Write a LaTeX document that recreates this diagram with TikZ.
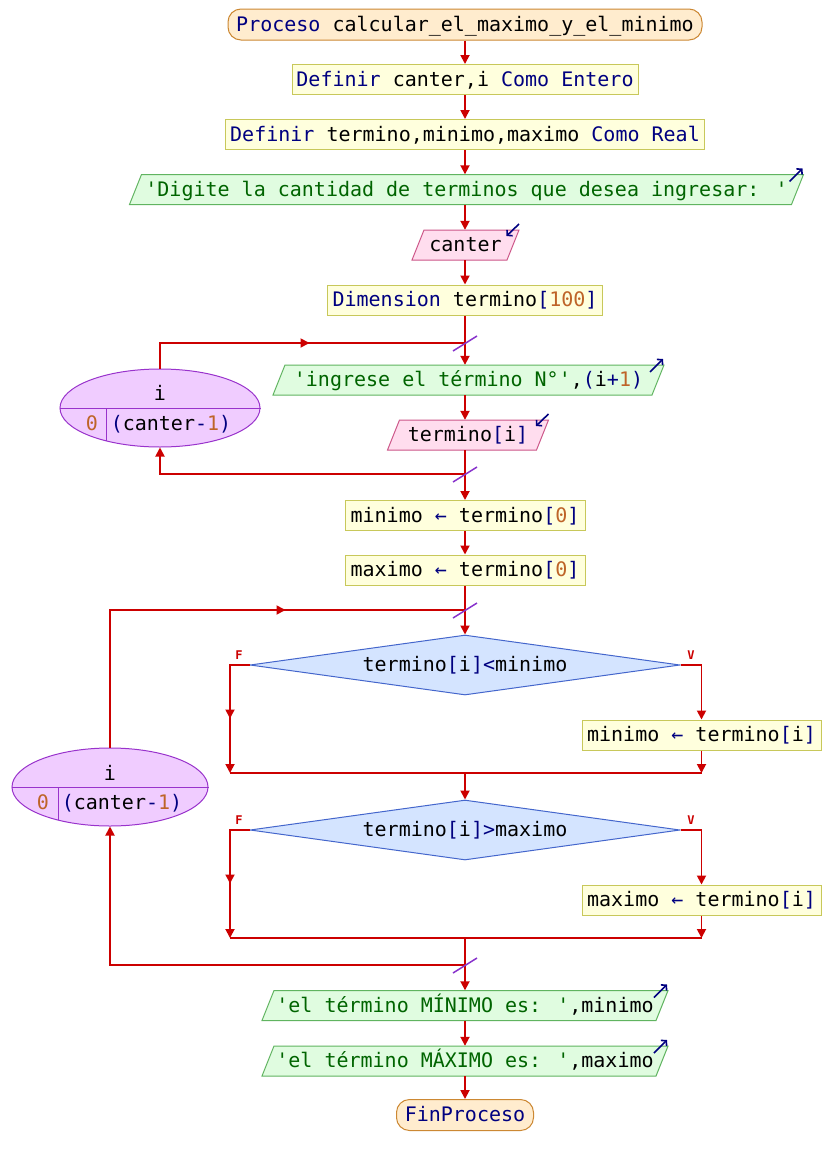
\documentclass[tikz,border=0pt]{standalone}
\usepackage{fontspec}
\newfontfamily\mono{DejaVu Sans Mono}
\usetikzlibrary{shapes.geometric,arrows.meta,calc,decorations.markings}
\definecolor{flowred}{RGB}{204,0,0}
\definecolor{kwblue}{RGB}{0,0,128}
\definecolor{strgreen}{RGB}{0,100,0}
\definecolor{numbrown}{RGB}{190,100,40}
\definecolor{termfill}{RGB}{255,236,206}
\definecolor{termdraw}{RGB}{204,136,51}
\definecolor{deffill}{RGB}{255,255,221}
\definecolor{defdraw}{RGB}{200,200,90}
\definecolor{outfill}{RGB}{224,252,224}
\definecolor{outdraw}{RGB}{96,180,96}
\definecolor{infill}{RGB}{255,221,238}
\definecolor{indraw}{RGB}{204,85,136}
\definecolor{ellfill}{RGB}{240,204,255}
\definecolor{elldraw}{RGB}{153,51,204}
\definecolor{decfill}{RGB}{212,228,255}
\definecolor{decdraw}{RGB}{68,102,204}
\definecolor{slashcol}{RGB}{136,51,204}
\newcommand\kw[1]{\textcolor{kwblue}{#1}}
\newcommand\st[1]{\textcolor{strgreen}{#1}}
\newcommand\nm[1]{\textcolor{numbrown}{#1}}
\tikzset{
  txt/.style={font=\mono\fontsize{20}{24}\selectfont, inner sep=0pt, text height=15pt, text depth=2pt},
  term/.style={txt, draw=termdraw, fill=termfill, line width=1pt, rounded corners=13pt, minimum height=31},
  defb/.style={txt, draw=defdraw, fill=deffill, line width=1pt, minimum height=30},
  outsh/.style={draw=outdraw, fill=outfill, line width=1pt},
  insh/.style={draw=indraw, fill=infill, line width=1pt},
  cornerarr/.style={draw=kwblue, line width=1.6pt, -{Straight Barb[length=3.5pt,width=8pt]}},
  loopell/.style={ellipse, draw=elldraw, fill=ellfill, line width=1pt, inner sep=0pt},
  dec/.style={txt, diamond, aspect=7.17, draw=decdraw, fill=decfill, line width=1pt, minimum width=430, minimum height=60},
  line/.style={color=flowred, line width=1.8pt},
  flow/.style={line, -{Triangle[length=9pt,width=9pt]}},
  midarrow/.style={postaction={decorate}, decoration={markings, mark=at position #1 with {\arrow{Triangle[length=9pt,width=9pt]}}}},
  slashst/.style={draw=slashcol, line width=1.5pt},
  fv/.style={font=\mono\bfseries\fontsize{12}{14}\selectfont, text=flowred, inner sep=0pt}
}
\newcommand\outbox[5]{%
  \path[outsh] (#2-#4-6,#3+15) -- (#2-#4+6,#3-15) -- (#2+#4+6,#3-15) -- (#2+#4-6,#3+15) -- cycle;
  \node[txt, minimum width=2*#4, minimum height=30] (#1) at (#2,#3) {#5};
  \draw[cornerarr] (#2+#4+6-14,#3-15+7) -- (#2+#4+6-1,#3-15-6);}
\newcommand\inbox[5]{%
  \path[insh] (#2-#4-6,#3+15) -- (#2-#4+6,#3-15) -- (#2+#4+6,#3-15) -- (#2+#4-6,#3+15) -- cycle;
  \node[txt, minimum width=2*#4, minimum height=30] (#1) at (#2,#3) {#5};
  \draw[cornerarr] (#2+#4+6,#3-15-6) -- (#2+#4+6-12.5,#3-15+6);}
\begin{document}
\begin{tikzpicture}[x=1pt,y=-1pt]
\useasboundingbox (0,0) rectangle (831,1165);
\fill[white] (0,0) rectangle (831,1165);

% main column
\node[term, minimum width=474] (start) at (465,24.5) {\kw{Proceso} calcular\_el\_maximo\_y\_el\_minimo};
\node[defb, minimum width=346] (def1) at (465,79.5) {\kw{Definir} canter,i \kw{Como Entero}};
\node[defb, minimum width=479] (def2) at (465,134.5) {\kw{Definir} termino,minimo,maximo \kw{Como Real}};
\outbox{out1}{466.5}{189.5}{331}{\st{'Digite la cantidad de terminos que desea ingresar: '}}
\inbox{in1}{465.5}{245}{47.5}{canter}
\node[defb, minimum width=275] (dim) at (465,300) {\kw{Dimension} termino\kw{[}\nm{100}\kw{]}};
\coordinate (j1) at (465,343);
\outbox{out2}{468.5}{380}{189.5}{\st{'ingrese el término N°'},\kw{(}i\kw{+}\nm{1}\kw{)}}
\inbox{in2}{468}{435}{74.5}{termino\kw{[}i\kw{]}}
\coordinate (j2) at (465,474);
\node[defb, minimum width=240] (a1) at (465,515.5) {minimo \kw{←} termino\kw{[}\nm{0}\kw{]}};
\node[defb, minimum width=240] (a2) at (465,570) {maximo \kw{←} termino\kw{[}\nm{0}\kw{]}};
\coordinate (j3) at (465,610);
\node[dec] (d1) at (465,665) {termino\kw{[}i\kw{]<}minimo};
\node[fv] (f1) at (239,655) {F};
\node[fv] (v1) at (691,655) {V};
\node[defb, minimum width=239] (a3) at (701.5,735) {minimo \kw{←} termino\kw{[}i\kw{]}};
\coordinate (m1L) at (230,773);
\coordinate (m1R) at (701.5,773);
\coordinate (m1) at (465,773);
\node[dec] (d2) at (465,830) {termino\kw{[}i\kw{]>}maximo};
\node[fv] (f2) at (239,820) {F};
\node[fv] (v2) at (691,820) {V};
\node[defb, minimum width=239] (a4) at (701.5,900) {maximo \kw{←} termino\kw{[}i\kw{]}};
\coordinate (m2L) at (230,938);
\coordinate (m2R) at (701.5,938);
\coordinate (m2) at (465,938);
\coordinate (j4) at (465,965);
\outbox{out3}{465}{1005.5}{197}{\st{'el término MÍNIMO es: '},minimo}
\outbox{out4}{465}{1061}{197}{\st{'el término MÁXIMO es: '},maximo}
\node[term, minimum width=137] (end) at (465,1115) {\kw{FinProceso}};

% loop ellipses
\node[loopell, minimum width=200, minimum height=78] (e1) at (160,408) {};
\draw[draw=elldraw, line width=1pt] (e1.west) -- (e1.east);
\draw[draw=elldraw, line width=1pt] (106,408) -- (106,440.8);
\node[txt] (e1v) at (160,394) {i};
\node[txt] (e1a) at (92,424) {\nm{0}};
\node[txt] (e1b) at (171,424) {\kw{(}canter\kw{-}\nm{1}\kw{)}};

\node[loopell, minimum width=196, minimum height=78] (e2) at (110,787) {};
\draw[draw=elldraw, line width=1pt] (e2.west) -- (e2.east);
\draw[draw=elldraw, line width=1pt] (58,787) -- (58,820);
\node[txt] (e2v) at (110,774) {i};
\node[txt] (e2a) at (43,803) {\nm{0}};
\node[txt] (e2b) at (122,803) {\kw{(}canter\kw{-}\nm{1}\kw{)}};

% connectors
\draw[flow] (start.south) -- (def1.north);
\draw[flow] (def1.south) -- (def2.north);
\draw[flow] (def2.south) -- (out1.north -| def2.south);
\draw[flow] (out1.south -| def2.south) -- (in1.north -| def2.south);
\draw[flow] (in1.south -| def2.south) -- (dim.north);
\draw[flow] (dim.south) -- (j1) -- (out2.north -| j1);
\draw[flow] (out2.south -| j1) -- (in2.north -| j1);
\draw[flow] (in2.south -| j1) -- (j2) -- (a1.north);
\draw[line, midarrow=175pt] (e1.north) |- (j1);
\draw[flow] (j2) -| (e1.south);
\draw[flow] (a1.south) -- (a2.north);
\draw[flow] (a2.south) -- (j3) -- (d1.north);
\draw[line, midarrow=313pt] (e2.north) |- (j3);
\draw[flow] (d1.east) -| (a3.north);
\draw[flow] (a3.south) -- (m1R);
\draw[flow, midarrow=73pt] (d1.west) -| (m1L);
\draw[line] (m1L) -- (m1R);
\draw[flow] (m1) -- (d2.north);
\draw[flow] (d2.east) -| (a4.north);
\draw[flow] (a4.south) -- (m2R);
\draw[flow, midarrow=73pt] (d2.west) -| (m2L);
\draw[line] (m2L) -- (m2R);
\draw[flow] (m2) -- (j4) -- (out3.north);
\draw[flow] (j4) -| (e2.south);
\draw[flow] (out3.south) -- (out4.north);
\draw[flow] (out4.south) -- (end.north);

% loop slashes
\foreach \j in {j1,j2,j3,j4}
  \draw[slashst] ($(\j)+(-12,8)$) -- ($(\j)+(12,-7)$);
\end{tikzpicture}
\end{document}
